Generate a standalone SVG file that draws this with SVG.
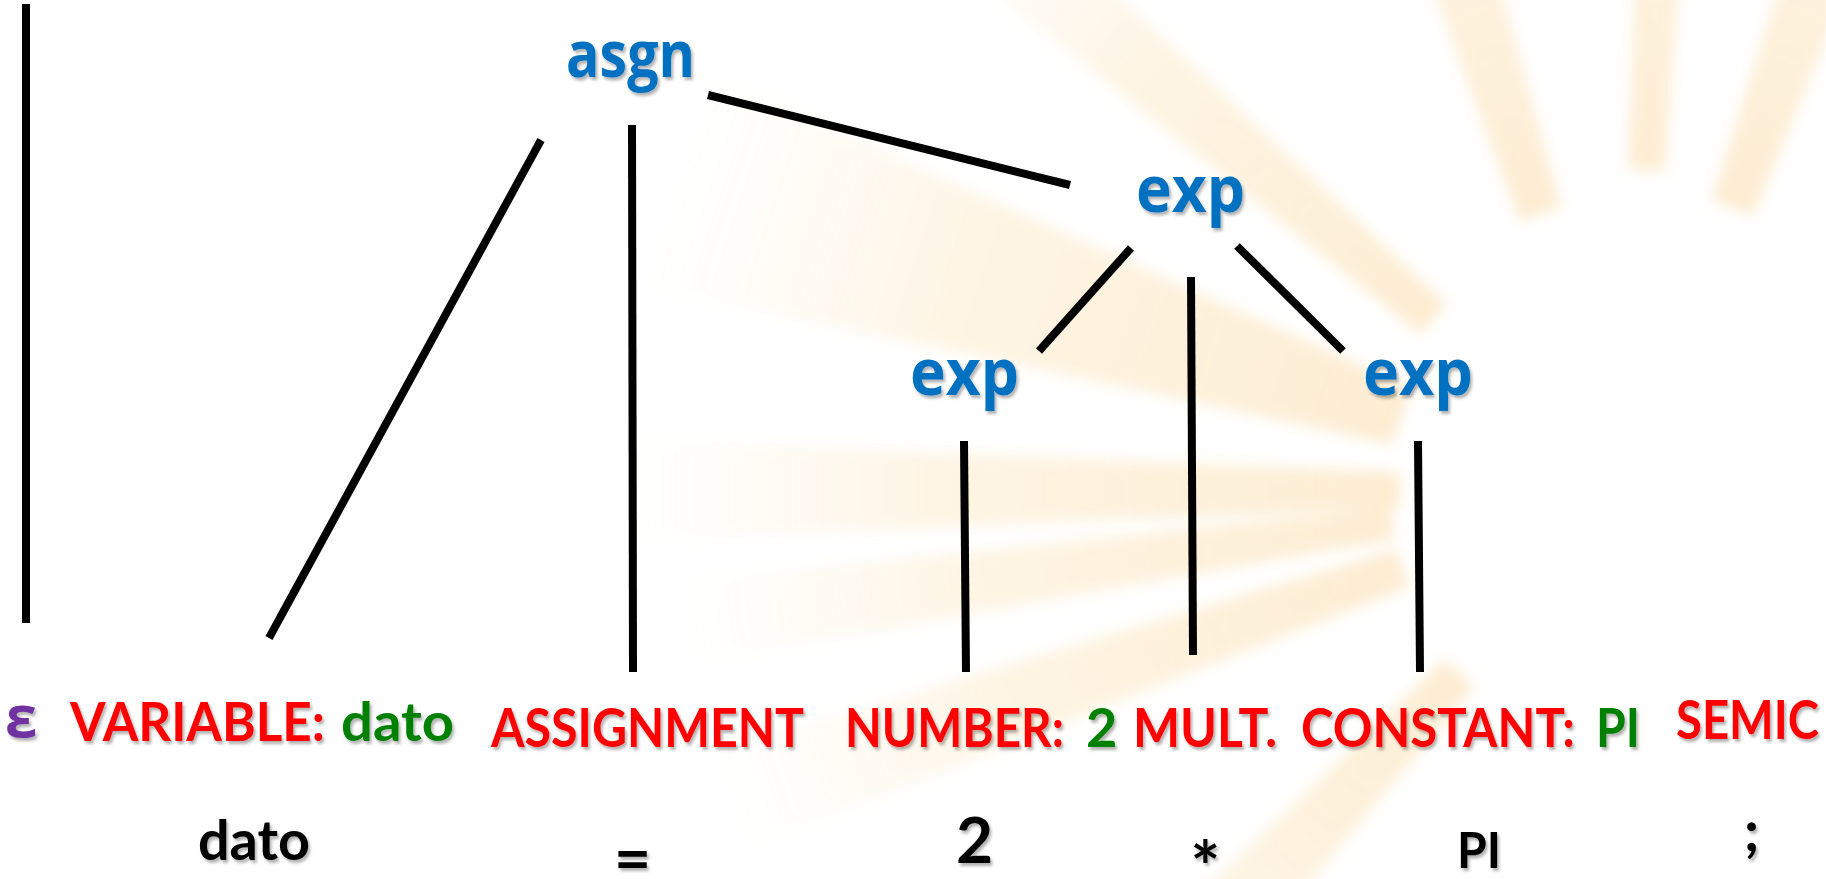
<svg xmlns="http://www.w3.org/2000/svg" width="1826" height="879" viewBox="0 0 1826 879">
<defs>
<style>
.node{font-family:"Open Sans","Liberation Sans",sans-serif;font-weight:bold;font-size:64px;fill:#0070C0;filter:url(#shadow)}
.tok{font-family:Lato,"Liberation Sans",sans-serif;font-weight:bold;font-size:54px;fill:#FF0000;filter:url(#shadow)}
.val{fill:#008000}
.eps{font-family:"Open Sans","DejaVu Sans",sans-serif;font-weight:bold;font-size:58px;fill:#7030A0;filter:url(#shadow)}
.lex{font-family:Lato,"Liberation Sans",sans-serif;font-weight:bold;fill:#000000;filter:url(#shadow)}
.edge{stroke:#000000;stroke-width:8;stroke-linecap:butt;fill:none}
.ray{fill:url(#rayGrad)}
</style>
<filter id="shadow" x="-10%" y="-20%" width="130%" height="150%">
<feDropShadow dx="2" dy="3" stdDeviation="1.5" flood-color="#000000" flood-opacity="0.3"/>
</filter>
<filter id="soft" x="-20%" y="-20%" width="140%" height="140%">
<feGaussianBlur stdDeviation="7"/>
</filter>
<linearGradient id="rayGrad" x1="0" y1="0" x2="1" y2="0">
<stop offset="0" stop-color="#F5B850" stop-opacity="0.26"/>
<stop offset="0.6" stop-color="#F7C56A" stop-opacity="0.18"/>
<stop offset="1" stop-color="#F9D488" stop-opacity="0"/>
</linearGradient>
</defs>
<rect x="0" y="0" width="1826" height="879" fill="#FFFFFF"/>
<g id="background" filter="url(#soft)" transform="translate(1630,490)">
<polygon class="ray" points="290,-22 900,-50 900,50 290,22" transform="rotate(-108)"/>
<polygon class="ray" points="320,-18 900,-32 900,32 320,18" transform="rotate(-87)"/>
<polygon class="ray" points="300,-22 900,-50 900,50 300,22" transform="rotate(-70)"/>
<polygon class="ray" points="260,-20 900,-45 900,45 260,20" transform="rotate(-139)"/>
<polygon class="ray" points="240,-30 1000,-110 1000,110 240,30" transform="rotate(-162)"/>
<polygon class="ray" points="230,-18 1000,-50 1000,50 230,18" transform="rotate(180)"/>
<polygon class="ray" points="240,-16 950,-40 950,40 240,16" transform="rotate(172)"/>
<polygon class="ray" points="240,-20 950,-50 950,50 240,20" transform="rotate(161)"/>
<polygon class="ray" points="250,-20 800,-50 800,50 250,20" transform="rotate(133)"/>
</g>
<g id="connectors">
<line class="edge" x1="26" y1="4" x2="26" y2="623"/>
<line class="edge" x1="541" y1="140" x2="269" y2="638"/>
<line class="edge" x1="632" y1="125" x2="633" y2="672"/>
<line class="edge" x1="708" y1="95" x2="1070" y2="185"/>
<line class="edge" x1="1131" y1="248" x2="1039" y2="351"/>
<line class="edge" x1="1191" y1="277" x2="1193" y2="655"/>
<line class="edge" x1="1237" y1="246" x2="1343" y2="351"/>
<line class="edge" x1="964" y1="441" x2="966" y2="672"/>
<line class="edge" x1="1418" y1="441" x2="1420" y2="672"/>
</g>
<g id="node-asgn"><text class="node" x="566" y="77" textLength="129" lengthAdjust="spacingAndGlyphs">asgn</text></g>
<g id="node-exp-top"><text class="node" x="1136" y="212" textLength="109" lengthAdjust="spacingAndGlyphs">exp</text></g>
<g id="node-exp-left"><text class="node" x="910" y="395" textLength="109" lengthAdjust="spacingAndGlyphs">exp</text></g>
<g id="node-exp-right"><text class="node" x="1363" y="395" textLength="110" lengthAdjust="spacingAndGlyphs">exp</text></g>
<g id="tok-epsilon"><text class="eps" x="5" y="737">ε</text></g>
<g id="tok-variable">
<text class="tok" y="741"><tspan x="70" textLength="255" lengthAdjust="spacingAndGlyphs">VARIABLE:</tspan><tspan class="val" x="341" textLength="113" lengthAdjust="spacingAndGlyphs">dato</tspan></text>
</g>
<g id="tok-assignment"><text class="tok" x="491" y="747" textLength="313" lengthAdjust="spacingAndGlyphs">ASSIGNMENT</text></g>
<g id="tok-number">
<text class="tok" y="747"><tspan x="845" textLength="219" lengthAdjust="spacingAndGlyphs">NUMBER:</tspan><tspan class="val" x="1086">2</tspan></text>
</g>
<g id="tok-mult"><text class="tok" x="1133" y="747" textLength="144" lengthAdjust="spacingAndGlyphs">MULT.</text></g>
<g id="tok-constant">
<text class="tok" y="747"><tspan x="1301" textLength="274" lengthAdjust="spacingAndGlyphs">CONSTANT:</tspan><tspan class="val" x="1596" textLength="44" lengthAdjust="spacingAndGlyphs">PI</tspan></text>
</g>
<g id="tok-semic"><text class="tok" x="1819" y="739" text-anchor="end" textLength="143" lengthAdjust="spacingAndGlyphs">SEMIC</text></g>
<g id="lexemes">
<text class="lex" x="198" y="860" font-size="55" textLength="112" lengthAdjust="spacingAndGlyphs">dato</text>
<text class="lex" x="632.5" y="881" font-size="64" text-anchor="middle">=</text>
<text class="lex" x="974.5" y="863" font-size="64" text-anchor="middle">2</text>
<text class="lex" x="1205.5" y="893" font-size="70" text-anchor="middle">*</text>
<text class="lex" x="1457" y="868" font-size="50" textLength="44" lengthAdjust="spacingAndGlyphs">PI</text>
<text class="lex" x="1751.5" y="851" font-size="58" text-anchor="middle">;</text>
</g>
</svg>
